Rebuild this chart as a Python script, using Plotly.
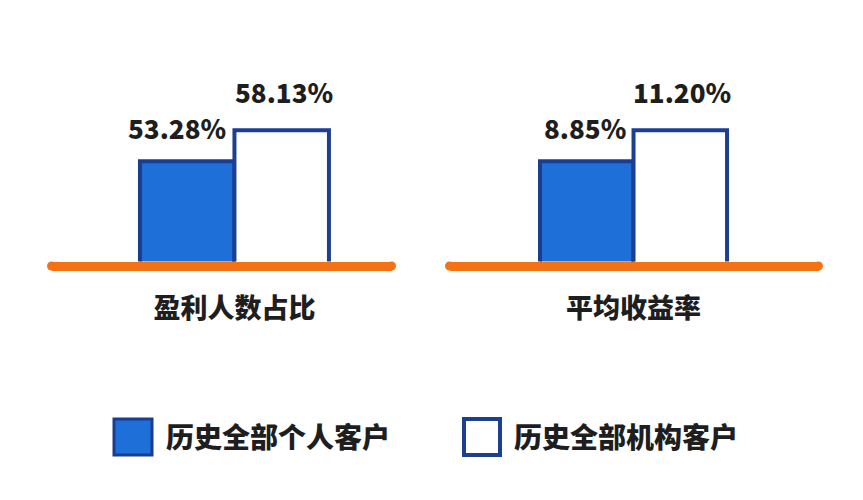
import plotly.graph_objects as go

categories = ["盈利人数占比", "平均收益率"]
series_names = ["历史全部个人客户", "历史全部机构客户"]
personal_vals = [53.28, 8.85]
institution_vals = [58.13, 11.20]
# the bars in the picture do not start from zero, each panel has its own range
y_ranges = [[37.6, 69.12], [1.25, 16.53]]

FONT = "Noto Sans CJK SC, Noto Sans, sans-serif"
BLUE = "#1f6fd8"
BLUE_EDGE = "#1b3d90"
NAVY_EDGE = "#1d3f92"
ORANGE = "#f47216"
TEXT = "#1e1e1e"

W, H = 863, 500
x_domains = [[51.5 / W, 391.5 / W], [449.5 / W, 818.5 / W]]
x_ranges = [[-0.968, 0.831], [-0.984, 0.989]]
y_domain = [0.477, 0.88]

fig = go.Figure()

for i, cat in enumerate(categories):
    xa = "x" if i == 0 else "x2"
    ya = "y" if i == 0 else "y2"
    fig.add_trace(go.Bar(
        x=[0], y=[personal_vals[i]], width=0.5, offset=-0.5,
        marker=dict(color=BLUE, line=dict(color=BLUE_EDGE, width=4)),
        name=series_names[0], xaxis=xa, yaxis=ya, hoverinfo="skip"
    ))
    fig.add_trace(go.Bar(
        x=[0], y=[institution_vals[i]], width=0.5, offset=0,
        marker=dict(color="white", line=dict(color=NAVY_EDGE, width=4)),
        name=series_names[1], xaxis=xa, yaxis=ya, hoverinfo="skip"
    ))

    # value labels
    fig.add_annotation(
        x=0, y=personal_vals[i], xref=xa, yref=ya,
        text=f"{personal_vals[i]:.2f}%", showarrow=False,
        xanchor="right", yanchor="middle", xshift=-6, yshift=34,
        font=dict(family=FONT, size=26, color=TEXT, weight=900)
    )
    fig.add_annotation(
        x=0.25, y=institution_vals[i], xref=xa, yref=ya,
        text=f"{institution_vals[i]:.2f}%", showarrow=False,
        xanchor="center", yanchor="middle", xshift=2, yshift=39,
        font=dict(family=FONT, size=26, color=TEXT, weight=900)
    )

    # rounded caps for the orange baseline
    for end in (0, 1):
        fig.add_shape(
            type="circle", xref=f"{xa} domain", yref=f"{ya} domain",
            xsizemode="pixel", ysizemode="pixel",
            xanchor=end, yanchor=0,
            x0=-4.5, x1=4.5, y0=-9, y1=0,
            fillcolor=ORANGE, line=dict(width=0), layer="above"
        )

axis_common = dict(
    showgrid=False, zeroline=False, showline=True,
    linecolor=ORANGE, linewidth=9, ticks="",
    tickfont=dict(family=FONT, size=27, color=TEXT, weight=900),
    ticklabelstandoff=15, fixedrange=True
)
yaxis_common = dict(visible=False, showgrid=False, zeroline=False, fixedrange=True)

fig.update_layout(
    width=W, height=H,
    margin=dict(l=0, r=0, t=0, b=0),
    paper_bgcolor="white", plot_bgcolor="white",
    barmode="overlay", showlegend=False,
    xaxis=dict(domain=x_domains[0], range=x_ranges[0], tickvals=[0],
               ticktext=[categories[0]], anchor="y", **axis_common),
    xaxis2=dict(domain=x_domains[1], range=x_ranges[1], tickvals=[0],
                ticktext=[categories[1]], anchor="y2", **axis_common),
    yaxis=dict(domain=y_domain, range=y_ranges[0], anchor="x", **yaxis_common),
    yaxis2=dict(domain=y_domain, range=y_ranges[1], anchor="x2", **yaxis_common),
)

# legend drawn by hand: big square swatches
legend_boxes = [
    dict(x0=114, x1=152, fill=BLUE, edge=BLUE_EDGE, lw=3, tx=164),
    dict(x0=464, x1=500, fill="white", edge=NAVY_EDGE, lw=4, tx=512),
]
for name, box in zip(series_names, legend_boxes):
    fig.add_shape(
        type="rect", xref="paper", yref="paper",
        x0=box["x0"] / W, x1=box["x1"] / W,
        y0=1 - 455 / H, y1=1 - 419 / H,
        fillcolor=box["fill"], line=dict(color=box["edge"], width=box["lw"])
    )
    fig.add_annotation(
        x=box["tx"] / W, y=1 - 436 / H, xref="paper", yref="paper",
        text=name, showarrow=False, xanchor="left", yanchor="middle",
        font=dict(family=FONT, size=28, color=TEXT, weight=900)
    )

# page body margin would push the figure 8px off
fig.write_html("out.html", config={"displayModeBar": False},
               post_script="document.body.style.margin='0';")
